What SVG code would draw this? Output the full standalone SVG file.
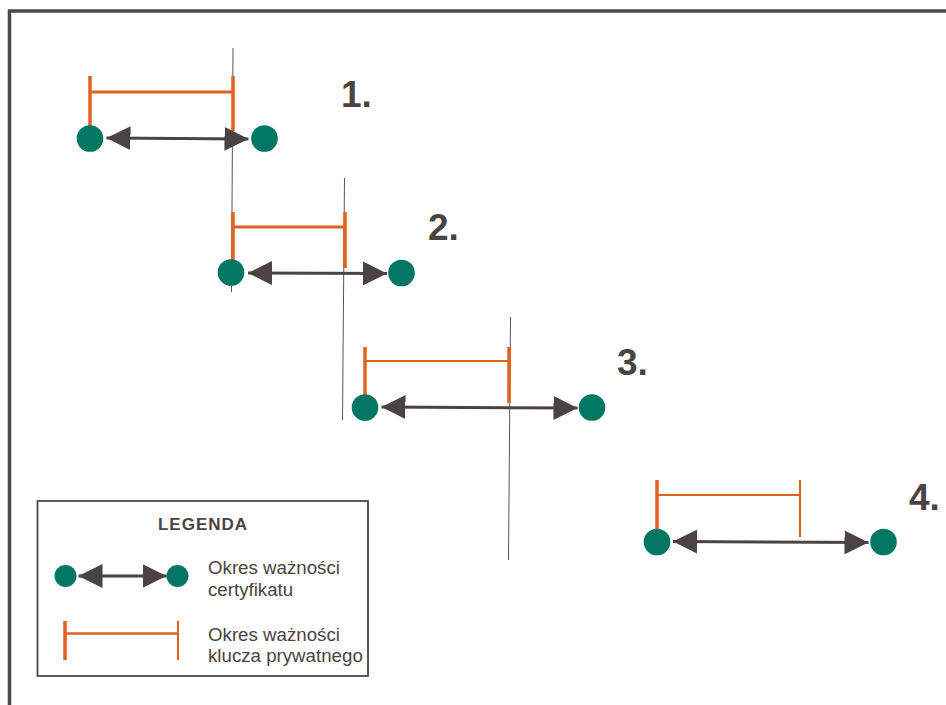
<svg xmlns="http://www.w3.org/2000/svg" width="946" height="705" viewBox="0 0 946 705">
<defs>
<style>
.frame{fill:none;stroke:#4e4848;stroke-width:3.5}
.dot{fill:#007663}
.key{stroke:#e0621f;fill:none}
.guide{stroke:#5a5555;stroke-width:1;fill:none}
.arr{stroke:#4b4341;stroke-width:3;fill:none;marker-start:url(#ah);marker-end:url(#ah)}
.num{font-family:"Liberation Sans",Arial,sans-serif;font-weight:bold;font-size:37px;fill:#4b4341}
.lbl{font-family:"Liberation Sans",Arial,sans-serif;font-size:18.7px;fill:#4b4341}
.ttl{font-family:"Liberation Sans",Arial,sans-serif;font-weight:bold;font-size:17px;fill:#4b4341;letter-spacing:1px}
</style>
<marker id="ah" markerUnits="userSpaceOnUse" markerWidth="24" markerHeight="24" viewBox="0 0 23 23" refX="23" refY="11.5" orient="auto-start-reverse">
<path d="M0,0 L23,11.5 L0,23 z" fill="#4b4341"/>
</marker>
</defs>
<rect width="946" height="705" fill="#ffffff"/>
<path class="frame" d="M9.5,705 V11 H946"/>

<g id="guides">
<line class="guide" x1="233" y1="48" x2="231.5" y2="292"/>
<line class="guide" x1="344.5" y1="178" x2="342.5" y2="420"/>
<line class="guide" x1="510.5" y1="317" x2="508.5" y2="560"/>
</g>

<g id="row1">
<path class="key" stroke-width="3.5" d="M90,76 V126"/>
<path class="key" stroke-width="3" d="M90,92 H233"/>
<path class="key" stroke-width="3.5" d="M233,76 V131"/>
<circle class="dot" cx="90" cy="138.5" r="13.3"/>
<circle class="dot" cx="264.5" cy="138.5" r="13.3"/>
<text class="num" x="341" y="107">1.</text>
</g>

<g id="row2">
<path class="key" stroke-width="3.5" d="M233,212 V262"/>
<path class="key" stroke-width="3" d="M233,227 H345"/>
<path class="key" stroke-width="3.5" d="M345,212 V268"/>
<circle class="dot" cx="231" cy="272.5" r="13.3"/>
<circle class="dot" cx="401.5" cy="273" r="13.3"/>
<text class="num" x="428" y="240">2.</text>
</g>

<g id="row3">
<path class="key" stroke-width="3.5" d="M365,347 V396"/>
<path class="key" stroke-width="2" d="M365,361 H509"/>
<path class="key" stroke-width="3.5" d="M509,347 V403"/>
<circle class="dot" cx="365" cy="407.5" r="13.3"/>
<circle class="dot" cx="592" cy="407.5" r="13.3"/>
<text class="num" x="617" y="375">3.</text>
</g>

<g id="row4">
<path class="key" stroke-width="3.5" d="M657,480 V530"/>
<path class="key" stroke-width="2" d="M657,495 H800"/>
<path class="key" stroke-width="2" d="M800,480 V537"/>
<circle class="dot" cx="657" cy="542" r="13.3"/>
<circle class="dot" cx="883.5" cy="542" r="13.3"/>
<text class="num" x="909" y="510">4.</text>
</g>

<g id="legend">
<rect x="37.5" y="501" width="330.5" height="175" fill="none" stroke="#4e4848" stroke-width="1.8"/>
<text class="ttl" x="203" y="530" text-anchor="middle">LEGENDA</text>
<circle class="dot" cx="65.5" cy="576" r="11"/>
<circle class="dot" cx="177.5" cy="576" r="11"/>
<path class="key" stroke-width="3.5" d="M65,621 V660"/>
<path class="key" stroke-width="2.5" d="M65,633.5 H178"/>
<path class="key" stroke-width="2" d="M178,621 V660"/>
<text class="lbl" x="208" y="573.5">Okres ważności</text>
<text class="lbl" x="208" y="595.5">certyfikatu</text>
<text class="lbl" x="208" y="640.5">Okres ważności</text>
<text class="lbl" x="208" y="662">klucza prywatnego</text>
</g>

<g id="connectors">
<line class="arr" x1="106.5" y1="138" x2="248.5" y2="139"/>
<line class="arr" x1="248" y1="273" x2="387" y2="273.5"/>
<line class="arr" x1="381.5" y1="407" x2="577.5" y2="408"/>
<line class="arr" x1="673" y1="541.5" x2="868.5" y2="542.5"/>
<line class="arr" x1="78.5" y1="576" x2="166.5" y2="576"/>
</g>
</svg>
